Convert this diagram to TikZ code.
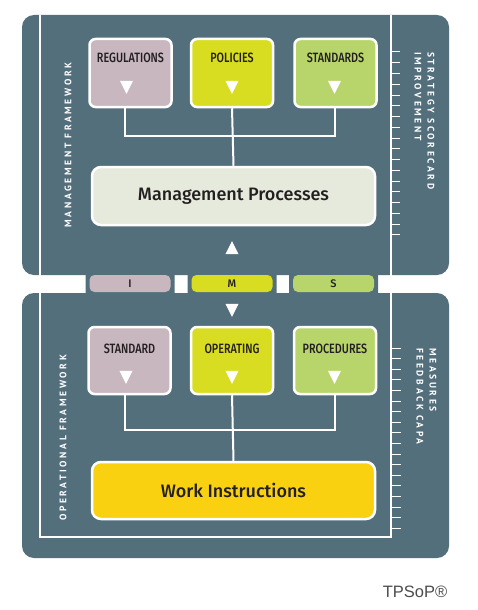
\documentclass[tikz,border=0pt]{standalone}
\usepackage{fontspec}
\setmainfont{PT Sans}
\newfontfamily\narrowfont[FakeStretch=0.8]{Fira Sans Medium}
\newfontfamily\medfont{Fira Sans Medium}
\newfontfamily\widefont[LetterSpace=28]{PT Sans Bold}
\newfontfamily\markfont{Liberation Sans}
\usetikzlibrary{shapes.geometric, positioning}
\definecolor{slate}{RGB}{84,111,124}
\definecolor{mauve}{RGB}{201,183,192}
\definecolor{lime}{RGB}{217,221,33}
\definecolor{leaf}{RGB}{184,213,108}
\definecolor{paper}{RGB}{230,234,220}
\definecolor{gold}{RGB}{249,209,17}
\definecolor{ink}{RGB}{35,31,32}
\tikzstyle{panel} = [fill=slate, rounded corners=12pt]
\tikzstyle{doc} = [rectangle, rounded corners=6pt, minimum width=82pt, minimum height=68pt, draw=white, line width=2.5pt]
\tikzstyle{doctext} = [font=\narrowfont\fontsize{13.5}{13.5}\selectfont, text=ink, inner sep=0pt]
\tikzstyle{tri} = [isosceles triangle, isosceles triangle stretches, minimum width=13pt, minimum height=13pt, inner sep=0pt, fill=white]
\tikzstyle{down} = [tri, shape border rotate=270]
\tikzstyle{up} = [tri, shape border rotate=90]
\tikzstyle{process} = [rectangle, rounded corners=9pt, minimum width=283pt, minimum height=58pt, draw=white, line width=2.5pt, text=ink, font=\medfont\fontsize{18}{18}\selectfont]
\tikzstyle{link} = [draw=white, line width=2pt]
\tikzstyle{rim} = [rectangle, rounded corners=4pt, fill=slate, minimum width=89pt, minimum height=26pt]
\tikzstyle{tab} = [rectangle, rounded corners=5pt, minimum width=81pt, minimum height=17pt, inner sep=0pt, text=ink, font=\medfont\fontsize{11}{11}\selectfont]
\tikzstyle{side} = [text=white, font=\widefont\fontsize{9.5}{13}\selectfont, inner sep=0pt, align=left]

\begin{document}
\begin{tikzpicture}[x=1pt, y=-1pt]
\useasboundingbox (0,0) rectangle (477,610);

% the two panels and the frame
\fill[panel] (22,15) rectangle (449,275);
\fill[panel] (22,293) rectangle (449,558);
\draw[white, line width=1.5pt] (40,15) -- (40,537) -- (391,537) -- (391,15);
\foreach \i in {0,...,17} {
  \draw[white, line width=1pt] (391,{52+10.75*\i}) -- (400,{52+10.75*\i});
  \draw[white, line width=1pt] (391,{348+10.6*\i}) -- (401,{348+10.6*\i});
}

% tabs
\node (rimI) [rim] at (130,284) {};
\node (rimM) [rim] at (232,284) {};
\node (rimS) [rim] at (333.5,284) {};
\node (tabI) [tab, fill=mauve] at (130,283.5) {I};
\node (tabM) [tab, fill=lime] at (232,283.5) {M};
\node (tabS) [tab, fill=leaf] at (333.5,283.5) {S};
\node (upmark) [up] at (232,250) {};
\node (downmark) [down] at (232,308) {};

% management framework
\node (reg) [doc, fill=mauve] at (130.5,73) {};
\node (pol) [doc, fill=lime] at (232,73) {};
\node (std) [doc, fill=leaf] at (335.5,73) {};
\node (regtxt) [doctext, below=15.5pt of reg.north] {REGULATIONS};
\node (poltxt) [doctext, below=15.5pt of pol.north] {POLICIES};
\node (stdtxt) [doctext, below=15.5pt of std.north] {STANDARDS};
\node (regmark) [down] at (126.5,85) {};
\node (polmark) [down] at (232,85) {};
\node (stdmark) [down] at (334.5,85) {};
\node (mgmt) [process, fill=paper] at (233.5,196) {Management Processes};

\coordinate (mbus) at (232,136);
\draw [link] ([xshift=-6pt]reg.south) |- (mbus) -| ([xshift=-0.5pt]std.south);
\draw [link] (pol.south) -- (mgmt.north);

% operational framework
\node (sop) [doc, fill=mauve, minimum height=67pt] at (129.5,360.5) {};
\node (opr) [doc, fill=lime, minimum height=67pt] at (232,360.5) {};
\node (prc) [doc, fill=leaf, minimum height=67pt] at (335,360.5) {};
\node (soptxt) [doctext, below=18.5pt of sop.north] {STANDARD};
\node (oprtxt) [doctext, below=18.5pt of opr.north] {OPERATING};
\node (prctxt) [doctext, below=18.5pt of prc.north] {PROCEDURES};
\node (sopmark) [down] at (126,375) {};
\node (oprmark) [down] at (232,375) {};
\node (prcmark) [down] at (334.5,375) {};
\node (work) [process, fill=gold, minimum height=57pt] at (233.5,490.5) {Work Instructions};

\coordinate (obus) at (232,430);
\draw [link] ([xshift=-4.5pt]sop.south) |- (obus) -| ([xshift=-0.5pt]prc.south);
\draw [link] (opr.south) -- (work.north);

% side labels
\node (mlabel) [side, rotate=90] at (68,145) {MANAGEMENT FRAMEWORK};
\node (olabel) [side, rotate=90] at (63,438) {OPERATIONAL FRAMEWORK};
\node (slabel) [side, rotate=-90, anchor=north west] at (434.5,52) {STRATEGY SCORECARD\\IMPROVEMENT};
\node (flabel) [side, rotate=-90, anchor=north west] at (436.5,348) {MEASURES\\FEEDBACK CAPA};

\node (mark) [font=\markfont\fontsize{16.5}{16.5}\selectfont, text=black!70] at (415,592) {TPSoP®};

\end{tikzpicture}
\end{document}
